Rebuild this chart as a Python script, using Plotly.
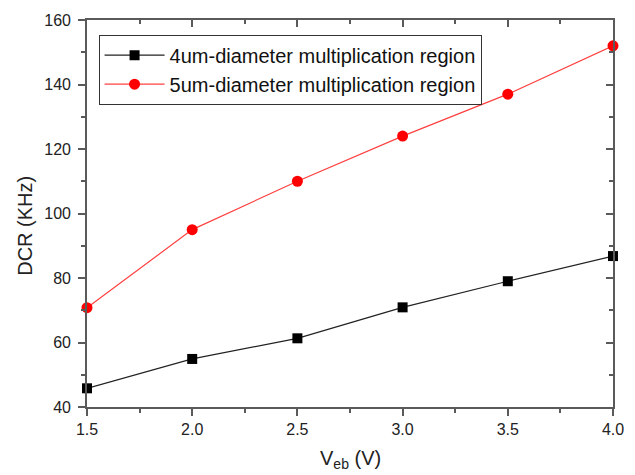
import plotly.graph_objects as go

veb = [1.5, 2.0, 2.5, 3.0, 3.5, 4.0]
dcr_4um = [45.8, 54.9, 61.3, 70.9, 79.0, 86.8]
dcr_5um = [70.8, 95.0, 110.0, 124.0, 137.0, 152.0]
name_4um = "4um-diameter multiplication region"
name_5um = "5um-diameter multiplication region"

FONT = "Liberation Sans, Arial, sans-serif"
AX = "#5a5a5a"

fig = go.Figure()
fig.add_trace(go.Scatter(x=veb, y=dcr_4um, name=name_4um, mode="lines+markers",
                         line=dict(color="#222222", width=1.2),
                         marker=dict(symbol="square", size=10, color="black"),
                         cliponaxis=False))
fig.add_trace(go.Scatter(x=veb, y=dcr_5um, name=name_5um, mode="lines+markers",
                         line=dict(color="#ff4040", width=1.2),
                         marker=dict(symbol="circle", size=11, color="#ff0000"),
                         cliponaxis=False))
# invisible trace for mirrored top/right axes
fig.add_trace(go.Scatter(x=[veb[0]], y=[dcr_4um[0]], xaxis="x2", yaxis="y2",
                         mode="markers", marker=dict(opacity=0), showlegend=False,
                         hoverinfo="skip"))

common = dict(showgrid=False, zeroline=False, showline=True, linecolor=AX, linewidth=1.6,
              tickcolor=AX, tickwidth=1.5, automargin=False)
fig.update_layout(
    width=635, height=475,
    margin=dict(l=87, r=22, t=20, b=68),
    paper_bgcolor="white", plot_bgcolor="white",
    font=dict(family=FONT, size=16, color="#222222"),
    xaxis=dict(range=[1.5, 4.0], dtick=0.5, tick0=1.5, tickformat=".1f",
               ticks="outside", ticklen=7,
               minor=dict(ticks="outside", dtick=0.25, ticklen=4, tickcolor=AX, tickwidth=1.5),
               **common),
    yaxis=dict(range=[40, 160], dtick=20, ticks="outside", ticklen=7, ticklabelstandoff=4,
               minor=dict(ticks="outside", dtick=10, ticklen=4, tickcolor=AX, tickwidth=1.5),
               **common),
    xaxis2=dict(range=[1.5, 4.0], overlaying="x", side="top", dtick=0.5, tick0=1.5,
                ticks="inside", ticklen=7, showticklabels=False,
                minor=dict(ticks="inside", dtick=0.25, ticklen=4, tickcolor=AX, tickwidth=1.5),
                **common),
    yaxis2=dict(range=[40, 160], overlaying="y", side="right", dtick=20,
                ticks="inside", ticklen=7, showticklabels=False,
                minor=dict(ticks="inside", dtick=10, ticklen=4, tickcolor=AX, tickwidth=1.5),
                **common),
    legend=dict(x=0.022, y=0.962, xanchor="left", yanchor="top",
                bgcolor="white", bordercolor="#333333", borderwidth=1,
                font=dict(size=20, color="#111111"), tracegroupgap=0, itemwidth=60),
    showlegend=True,
    annotations=[
        dict(text="DCR (KHz)", xref="paper", yref="paper", x=-0.118, y=0.468,
             xanchor="center", yanchor="middle", textangle=-90, showarrow=False,
             font=dict(size=20, color="#222222")),
        dict(text="V<sub>eb</sub> (V)", xref="paper", yref="paper", x=0.5, y=-0.135,
             xanchor="center", yanchor="middle", showarrow=False,
             font=dict(size=20, color="#222222")),
    ],
)
fig.write_html("out.html")
